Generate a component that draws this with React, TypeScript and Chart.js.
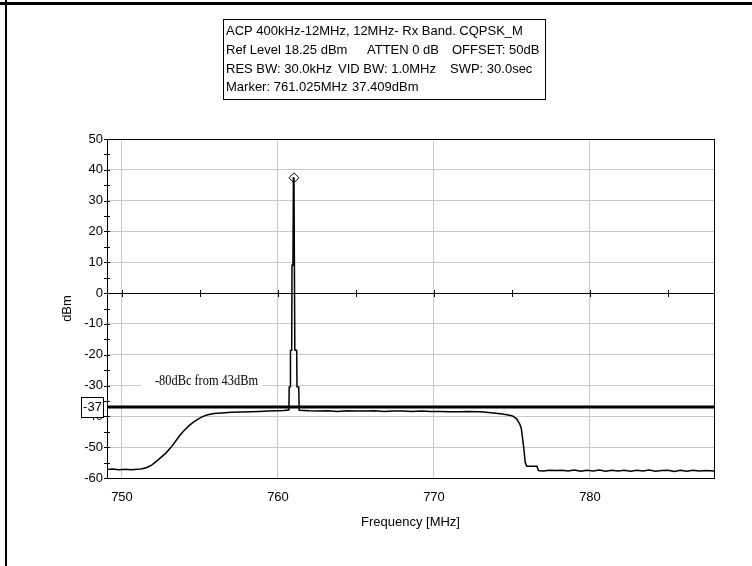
import React, { useEffect, useRef } from "react";
import { Chart, registerables } from "chart.js";

Chart.register(...registerables);

// ---------- data ----------
const freqMHz: number[] = [
  749.0, 749.4, 749.8, 750.2, 750.6, 751.0, 751.3, 751.6, 751.9, 752.2,
  752.5, 752.8, 753.1, 753.4, 753.7, 754.0, 754.3, 754.6, 754.9, 755.2,
  755.5, 755.9, 756.4, 757.0, 757.6, 758.2, 758.8, 759.4, 760.0, 760.4,
  760.65, 760.7, 760.72, 760.78, 760.8, 760.88, 760.9, 760.96, 760.99, 761.025,
  761.08, 761.2, 761.22, 761.33, 761.36, 761.4, 762.0, 762.6, 763.2, 763.8,
  764.4, 765.0, 765.6, 766.2, 766.8, 767.4, 768.0, 768.6, 769.2, 769.8,
  770.4, 771.0, 771.6, 772.2, 773.0, 773.8, 774.4, 775.0, 775.3, 775.5,
  775.6, 775.75, 775.85, 775.95, 776.6, 776.7, 777.0, 777.4, 777.8, 778.2,
  778.6, 779.0, 779.4, 779.8, 780.2, 780.6, 781.0, 781.4, 781.8, 782.2,
  782.6, 783.0, 783.4, 783.8, 784.2, 784.6, 785.0, 785.4, 785.8, 786.2,
  786.6, 787.0, 787.4, 787.95,
];
const levelDBm: number[] = [
  -57.3, -57.1, -57.3, -57.2, -57.3, -57.2, -57.0, -56.6, -55.8, -54.6,
  -53.3, -52.0, -50.3, -48.3, -46.2, -44.5, -43.0, -41.8, -40.8, -40.0,
  -39.5, -39.1, -38.9, -38.7, -38.6, -38.5, -38.4, -38.3, -38.2, -38.1,
  -37.9, -37.8, -30.5, -30.4, -18.6, -18.5, 9.0, 9.2, 37.4, 37.409,
  -18.5, -18.6, -30.4, -30.5, -38.0, -38.0, -38.2, -38.3, -38.2, -38.4,
  -38.2, -38.3, -38.3, -38.2, -38.4, -38.3, -38.3, -38.4, -38.3, -38.4,
  -38.4, -38.5, -38.5, -38.4, -38.5, -38.9, -39.2, -39.8, -40.8, -42.5,
  -44.0, -50.0, -55.0, -56.2, -56.2, -57.6, -57.7, -57.5, -57.6, -57.5,
  -57.7, -57.4, -57.8, -57.5, -57.7, -57.4, -57.8, -57.5, -57.7, -57.5,
  -57.8, -57.5, -57.7, -57.4, -57.8, -57.6, -57.5, -57.9, -57.5, -57.8,
  -57.5, -57.7, -57.6, -57.7,
];
const markerFreq = 761.025;
const markerLevel = 37.409;
const limitLevel = -37;
const limitText = "-37";
const limitLabel = "-80dBc from 43dBm";

const xMin = 749.04;
const xMax = 787.95;
const yMin = -60;
const yMax = 50;
const xTickStep = 10;
const yTickStep = 10;
const xTitle = "Frequency [MHz]";
const yTitle = "dBm";

const infoLines: string[][] = [
  ["ACP 400kHz-12MHz, 12MHz- Rx Band. CQPSK_M"],
  ["Ref Level 18.25 dBm", "ATTEN 0 dB", "OFFSET: 50dB"],
  ["RES BW: 30.0kHz", "VID BW: 1.0MHz", "SWP: 30.0sec"],
  ["Marker: 761.025MHz", "37.409dBm"],
];

// ---------- layout / style ----------
const W = 752;
const H = 566;
const FONT = '"Liberation Sans", Arial, sans-serif';
const SERIF = '"Liberation Serif", "Times New Roman", serif';
const segX: number[][] = [[226], [226, 367, 452], [226, 338, 450], [226, 352]];
const lineY: number[] = [31.5, 50.5, 69, 87.5];
const GRID = "#c8c8c8";

function seg(ctx: CanvasRenderingContext2D, x1: number, y1: number, x2: number, y2: number) {
  ctx.beginPath();
  ctx.moveTo(x1, y1);
  ctx.lineTo(x2, y2);
  ctx.stroke();
}

const overlayPlugin = {
  id: "overlay",
  afterDraw(chart: any) {
    const { ctx, chartArea: a, scales } = chart;
    const x = scales.x;
    const y = scales.y;
    ctx.save();
    ctx.strokeStyle = "#000";
    ctx.fillStyle = "#000";
    ctx.lineWidth = 1;

    // top and right frame of plot area
    seg(ctx, a.left, Math.round(a.top) + 0.5, Math.round(a.right) + 0.5, Math.round(a.top) + 0.5);
    seg(ctx, Math.round(a.right) + 0.5, a.top, Math.round(a.right) + 0.5, a.bottom);

    // y-axis ticks crossing axis (major + minor)
    for (let v = yMin; v <= yMax; v += yTickStep / 2) {
      const py = Math.round(y.getPixelForValue(v)) + 0.5;
      seg(ctx, a.left - 3, py, a.left + 3, py);
    }
    // x ticks on zero line
    const zy = Math.round(y.getPixelForValue(0));
    for (let f = 750; f <= 785; f += xTickStep / 2) {
      const px = Math.round(x.getPixelForValue(f)) + 0.5;
      seg(ctx, px, zy - 3, px, zy + 4);
    }

    // label -80dBc
    const lblY = y.getPixelForValue(-30) - 4;
    ctx.fillStyle = "#fff";
    ctx.fillRect(141, lblY - 8, 122, 17);
    ctx.fillStyle = "#000";
    ctx.font = `15px ${SERIF}`;
    ctx.textAlign = "left";
    ctx.textBaseline = "middle";
    ctx.fillText(limitLabel, 155, lblY, 103);

    // limit line
    const ly = y.getPixelForValue(limitLevel);
    ctx.lineWidth = 3;
    seg(ctx, a.left, ly, a.right, ly);

    // limit box
    ctx.lineWidth = 1;
    ctx.fillStyle = "#fff";
    ctx.fillRect(81, ly - 10, 22, 20);
    ctx.strokeRect(81.5, Math.round(ly - 10) + 0.5, 22, 20);
    ctx.fillStyle = "#000";
    ctx.font = `13px ${FONT}`;
    ctx.textAlign = "center";
    ctx.fillText(limitText, 92.5, ly + 0.5);

    // info box
    ctx.strokeRect(223.5, 19.5, 322, 80);
    ctx.textAlign = "left";
    infoLines.forEach((parts, i) => {
      parts.forEach((t, j) => ctx.fillText(t, segX[i][j], lineY[i]));
    });

    // outer frame (top and left)
    ctx.fillRect(0, 2, W, 3);
    ctx.fillRect(5, 0, 2, H);
    ctx.restore();
  },
};

export default function App() {
  const ref = useRef<HTMLCanvasElement | null>(null);
  useEffect(() => {
    if (!ref.current) return;
    const data = freqMHz.map((f, i) => ({ x: f, y: levelDBm[i] }));
    const chart = new Chart(ref.current, {
      type: "line",
      data: {
        datasets: [
          {
            data,
            borderColor: "#000",
            borderWidth: 1.5,
            pointRadius: 0,
            tension: 0,
            fill: false,
          },
          {
            data: [{ x: markerFreq, y: markerLevel }],
            showLine: false,
            pointStyle: "rectRot",
            pointRadius: 5,
            pointBackgroundColor: "#fff",
            pointBorderColor: "#000",
            pointBorderWidth: 1,
          },
        ],
      },
      options: {
        animation: false,
        responsive: false,
        devicePixelRatio: 1,
        layout: { padding: { left: 0, right: 38, top: 139, bottom: 0 } },
        plugins: { legend: { display: false }, tooltip: { enabled: false } },
        scales: {
          x: {
            type: "linear",
            min: xMin,
            max: xMax,
            afterFit: (s: any) => {
              s.height = 88;
            },
            ticks: {
              stepSize: xTickStep,
              includeBounds: false,
              color: "#000",
              font: { family: FONT, size: 13 },
              padding: 12,
              maxRotation: 0,
              callback: (v: any) => String(v),
            },
            grid: { color: GRID, drawTicks: false, lineWidth: 1 },
            border: { display: true, color: "#000", width: 1 },
            title: {
              display: true,
              text: xTitle,
              color: "#000",
              font: { family: FONT, size: 13 },
              padding: { top: 0, bottom: 36 },
            },
          },
          y: {
            min: yMin,
            max: yMax,
            afterFit: (s: any) => {
              s.width = 107;
            },
            ticks: {
              stepSize: yTickStep,
              color: "#000",
              font: { family: FONT, size: 13 },
              padding: 4,
            },
            grid: {
              color: (c: any) => (c.tick && c.tick.value === 0 ? "#000" : GRID),
              drawTicks: false,
              lineWidth: 1,
            },
            border: { display: true, color: "#000", width: 1 },
            title: {
              display: true,
              text: yTitle,
              color: "#000",
              font: { family: FONT, size: 13 },
              padding: { top: 60, bottom: 0 },
            },
          },
        },
      },
      plugins: [overlayPlugin],
    } as any);
    return () => chart.destroy();
  }, []);
  return (
    <div style={{ position: "fixed", left: 0, top: 0, width: W, height: H, background: "#fff" }}>
      <canvas ref={ref} width={W} height={H} style={{ display: "block" }} />
    </div>
  );
}
